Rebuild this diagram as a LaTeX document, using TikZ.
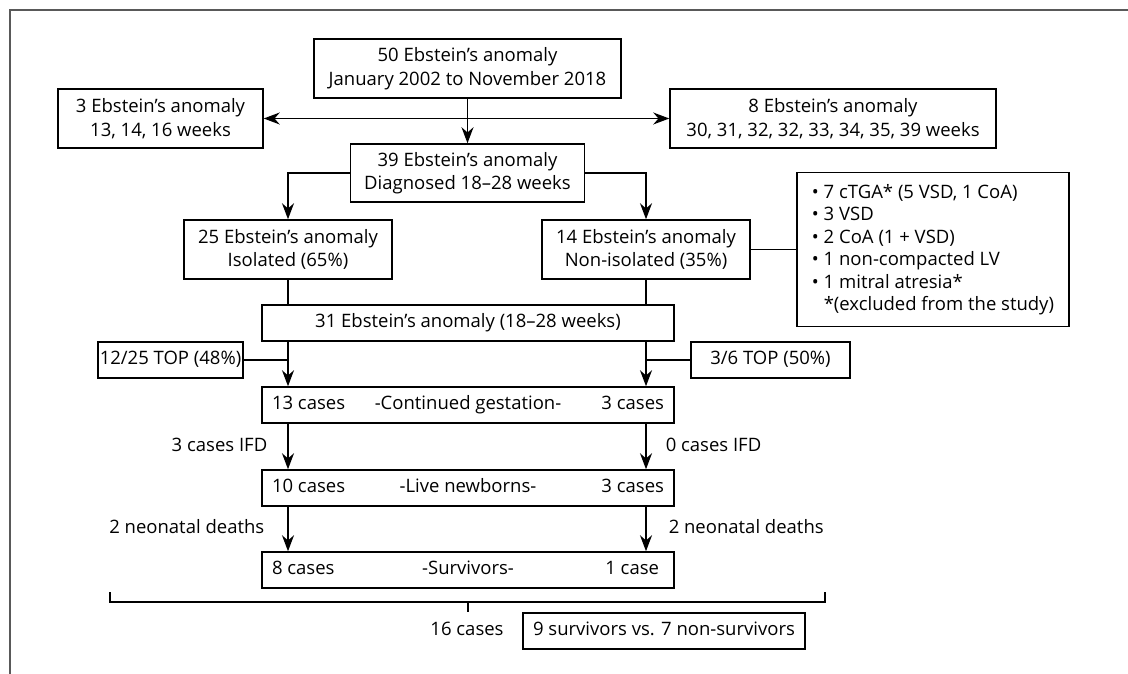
\documentclass[tikz,border=0pt]{standalone}
\usepackage{fontspec}
\setmainfont{Open Sans}
\usetikzlibrary{arrows.meta,positioning}

\begin{document}
\begin{tikzpicture}[x=1pt,y=-1pt,>={Stealth[length=16pt,width=12pt]},line width=1.5pt,
  font=\fontsize{18.5}{23.5}\selectfont,
  box/.style={draw,align=center,inner sep=0pt},
  row/.style={text height=13.5pt,text depth=4pt},
  wide/.style={box,row,minimum width=412pt,minimum height=36pt},
  small/.style={box,row,minimum height=36pt},
  tag/.style={row,inner sep=0pt}]
  \useasboundingbox (0,0) rectangle (1128,674);
  \draw[black!65,line width=1.8pt] (10,674) -- (10,10) -- (1128,10);

  \node[box,minimum width=307pt,minimum height=59pt] (all) at (467.5,68.5) {50 Ebstein's anomaly\\January 2002 to November 2018};
  \node[box,minimum width=205pt,minimum height=59pt] (early) at (160.5,118.5) {3 Ebstein's anomaly\\13, 14, 16 weeks};
  \node[box,minimum width=326pt,minimum height=59pt] (late) at (833,118.5) {8 Ebstein's anomaly\\30, 31, 32, 32, 33, 34, 35, 39 weeks};
  \node[box,minimum width=234pt,minimum height=58pt] (mid) at (467.5,173) {39 Ebstein's anomaly\\Diagnosed 18--28 weeks};
  \node[box,minimum width=208pt,minimum height=59pt] (iso) at (288,249.5) {25 Ebstein's anomaly\\Isolated (65\%)};
  \node[box,minimum width=208pt,minimum height=59pt] (noniso) at (646,249.5) {14 Ebstein's anomaly\\Non-isolated (35\%)};
  \node[box,align=left,minimum width=272pt,minimum height=154pt,font=\fontsize{18.5}{22.5}\selectfont] (assoc) at (933,249.5)
    {\textbullet\ 7 cTGA* (5 VSD, 1 CoA)\\
     \textbullet\ 3 VSD\\
     \textbullet\ 2 CoA (1 + VSD)\\
     \textbullet\ 1 non-compacted LV\\
     \textbullet\ 1 mitral atresia*\\
     \phantom{\textbullet\ }*(excluded from the study)};

  \node[wide] (sum) at (468,323) {31 Ebstein's anomaly (18--28 weeks)};
  \node[small,minimum width=145pt] (topl) at (170.5,360) {12/25 TOP (48\%)};
  \node[small,minimum width=159pt] (topr) at (770.5,360) {3/6 TOP (50\%)};

  \node[wide] (gest) at (468,405) {-Continued gestation-};
  \node[tag,anchor=west] (gestl) at ([xshift=10pt]gest.west) {13 cases};
  \node[tag,anchor=east] (gestr) at ([xshift=-10pt]gest.east) {3 cases};

  \node[wide] (born) at (468,488) {-Live newborns-};
  \node[tag,anchor=west] (bornl) at ([xshift=10pt]born.west) {10 cases};
  \node[tag,anchor=east] (bornr) at ([xshift=-10pt]born.east) {3 cases};

  \node[wide] (surv) at (468,570) {-Survivors-};
  \node[tag,anchor=west] (survl) at ([xshift=10pt]surv.west) {8 cases};
  \node[tag,anchor=east] (survr) at ([xshift=-15pt]surv.east) {1 case};

  \coordinate (bl) at (110,592);
  \coordinate (br) at (825,592);
  \coordinate (tick) at (468,602);
  \node[tag] (n16) at (467,631) {16 cases};
  \node[small,minimum width=282pt] (final) at (664,631) {9 survivors vs. 7 non-survivors};

  % top part
  \draw[<->] (early) -- (late);
  \draw[->] (all.south) -- (mid.north);
  \draw[->] (mid.west) -| (iso.north);
  \draw[->] (mid.east) -| (noniso.north);
  \draw (noniso) -- (assoc);
  \draw (iso.south) -- (iso.south |- sum.north);
  \draw (noniso.south) -- (noniso.south |- sum.north);

  % outcome
  \draw[->] (iso.south |- sum.south) -- (iso.south |- gest.north);
  \draw[->] (noniso.south |- sum.south) -- (noniso.south |- gest.north);
  \draw (topl) -- (topl -| iso.south);
  \draw (topr) -- (topr -| noniso.south);
  \path[->] (iso.south |- gest.south) edge node[tag,left=20pt] {3 cases IFD} (iso.south |- born.north)
            (noniso.south |- gest.south) edge node[tag,right=19pt] {0 cases IFD} (noniso.south |- born.north)
            (iso.south |- born.south) edge node[tag,left=23pt] {2 neonatal deaths} (iso.south |- surv.north)
            (noniso.south |- born.south) edge node[tag,right=22pt] {2 neonatal deaths} (noniso.south |- surv.north);

  \draw (bl) -- ++(0,10) -| (br);
  \draw (tick) -- ++(0,10);
\end{tikzpicture}
\end{document}
